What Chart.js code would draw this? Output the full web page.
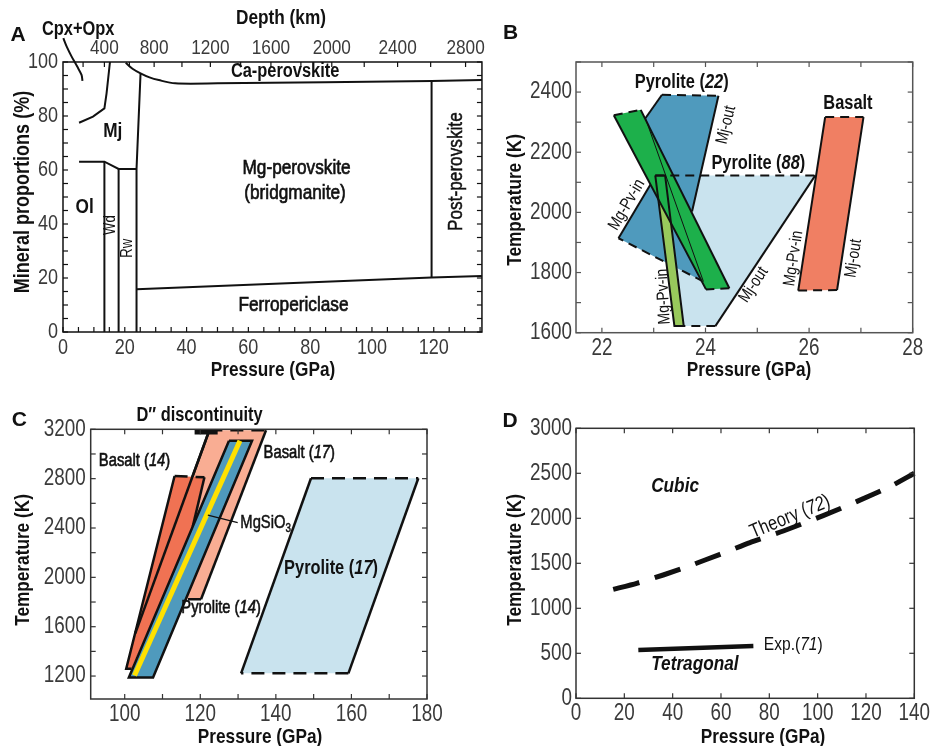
<!DOCTYPE html>
<html><head><meta charset="utf-8">
<script src="https://cdn.jsdelivr.net/npm/chart.js@4.4.1/dist/chart.umd.min.js"></script>
<style>
html,body{margin:0;padding:0;background:#fff;}
#wrap{position:relative;width:941px;height:746px;overflow:hidden;background:#fff;}
canvas{position:absolute;}
</style></head><body>
<div id="wrap">
<canvas id="cA" width="490" height="380" style="left:0;top:0"></canvas>
<canvas id="cB" width="451" height="380" style="left:490px;top:0"></canvas>
<canvas id="cC" width="490" height="366" style="left:0;top:380px"></canvas>
<canvas id="cD" width="451" height="366" style="left:490px;top:380px"></canvas>
</div>
<script>
// ---------------- DATA ----------------
// Panel A: mineral proportions (x = pressure GPa, y = %)
const cpxP = [0.1, 1.2, 2.8, 4.6, 6.0, 6.3];
const cpxF = [108.8, 105.7, 102, 98.3, 95.2, 93.0];
const mjP = [5.2, 9.7, 13.4, 14.1, 15.2];
const mjF = [77.5, 79.8, 82.8, 88.4, 100];
const olP = [5.2, 13.4, 18.0, 23.8];
const olF = [63.1, 63.1, 60.4, 60.4];
const wdP = [13.4, 13.4];
const wdF = [0, 63.1];
const rwP = [18.0, 18.0];
const rwF = [0, 60.4];
const pvP = [23.8, 23.8, 25.1];
const pvF = [0, 60.4, 95.8];
const fpP = [23.8, 119.3, 135.6];
const fpF = [15.8, 20.2, 20.7];
const caP = [20.3, 22.5, 25.1, 28.0, 31.0, 36.3, 50.0, 119.3, 135.6];
const caF = [99.7, 97.5, 95.8, 94.3, 93.3, 92.1, 92.1, 93.0, 93.3];
const ppvP = [119.3, 119.3];
const ppvF = [20.2, 93.0];
const xTicksA = [0, 20, 40, 60, 80, 100, 120];
const yTicksA = [0, 20, 40, 60, 80, 100];
const depthKm = [400, 800, 1200, 1600, 2000, 2400, 2800];
const depthAtP = [13.4, 29.5, 47.7, 67.3, 87.0, 108.3, 130.3];
const depthMinorP = [6.5, 13.4, 21.5, 29.5, 38.5, 47.7, 57.5, 67.3, 77.0, 87.0, 97.5, 108.3, 119.0, 130.3];

// Panel B: (x = pressure GPa, y = temperature K)
const pyr22P = [23.16, 24.25, 23.74, 23.96, 22.32, 23.03, 22.84];
const pyr22T = [2391, 2388, 2003, 1770, 1914, 2119, 2313];
const pyr88P = [23.03, 26.12, 24.19, 23.38];
const pyr88T = [2123, 2123, 1622, 1622];
const mgpvP = [23.03, 23.22, 23.58, 23.40];
const mgpvT = [2123, 2123, 1622, 1622];
const greenP = [22.23, 22.75, 24.46, 24.01];
const greenT = [2323, 2341, 1748, 1744];
const basBP = [26.31, 27.05, 26.54, 25.79];
const basBT = [2317, 2317, 1742, 1740];
const xTicksB = [22, 24, 26, 28];
const yTicksB = [1600, 1800, 2000, 2200, 2400];

// Panel C
const pyr17P = [149.3, 177.7, 159.2, 130.8];
const pyr17T = [2803, 2803, 1222, 1222];
const bas17P = [122.4, 137.4, 120.2, 116.3, 102.8];
const bas17T = [3192, 3192, 1822, 1822, 1546];
const bas14P = [113.2, 121.1, 118.0, 101.8, 100.4];
const bas14T = [2822, 2811, 2411, 1259, 1259];
const pyr14P = [127.6, 133.7, 107.5, 101.1];
const pyr14T = [3108, 3108, 1189, 1189];
const mgsP = [130.5, 102.6];
const mgsT = [3108, 1205];
const dppP = [118.5, 124.6];
const dppT = [3178, 3178];
const leadP = [122.0, 129.9];
const leadT = [2505, 2443];
const xTicksC = [100, 120, 140, 160, 180];
const yTicksC = [1200, 1600, 2000, 2400, 2800, 3200];

// Panel D
const theoryP = [15.4, 25.1, 36.1, 47.2, 59.6, 72.0, 85.8, 102.3, 116.1, 129.9, 140];
const theoryT = [1211, 1278, 1370, 1474, 1600, 1730, 1859, 2030, 2185, 2352, 2500];
const expP = [25.8, 73.4];
const expT = [537, 581];
const xTicksD = [0, 20, 40, 60, 80, 100, 120, 140];
const yTicksD = [0, 500, 1000, 1500, 2000, 2500, 3000];

// ---------------- HELPERS ----------------
const FAM = "'Liberation Sans',Arial,sans-serif";
const HS = 0.82; // horizontal condensing of all text (narrow face look)
function range(a, b, s) { const r = []; for (let v = a; v <= b + 1e-9; v += s) r.push(+v.toFixed(6)); return r; }
function pts(xs, ys) { return xs.map((x, i) => ({x: x, y: ys[i]})); }

function condense(canvas) {
  const ctx = canvas.getContext('2d');
  const orig = ctx.fillText;
  ctx._origFill = orig;
  ctx.fillText = function (t, x, y) {
    this.save(); this.translate(x, y); this.scale(HS, 1); orig.call(this, t, 0, 0); this.restore();
  };
}

function lineDS(xs, ys, o) {
  o = o || {};
  return {
    data: pts(xs, ys), borderColor: o.color || '#111', borderWidth: o.w || 2,
    borderDash: o.dash || [], borderCapStyle: o.cap || 'butt', pointRadius: 0,
    fill: false, tension: o.tension || 0, clip: o.clip === undefined ? 2 : o.clip
  };
}
function fillDS(xs, ys, color) {
  const d = pts(xs, ys); d.push(d[0]);
  return { data: d, borderWidth: 0, borderColor: 'rgba(0,0,0,0)', backgroundColor: color,
           fill: 'shape', pointRadius: 0, tension: 0 };
}
function outlineDS(xs, ys, edges, w, dash) {
  const d = pts(xs, ys); d.push(d[0]);
  return { data: d, borderWidth: w, borderColor: '#111', fill: false, pointRadius: 0, tension: 0,
    segment: {
      borderColor: c => edges[c.p0DataIndex] === 'n' ? 'rgba(0,0,0,0)' : '#111',
      borderDash: c => edges[c.p0DataIndex] === 'd' ? dash : []
    } };
}
function ordered(list) { list.forEach((d, i) => { d.order = -i; }); return list; }

function scale(o) {
  return {
    type: 'linear', position: o.pos, min: o.min, max: o.max,
    afterBuildTicks: s => { s.ticks = o.ticks.map(v => ({value: v})); },
    afterFit: s => { if (o.pos === 'left' || o.pos === 'right') s.width = o.size; else s.height = o.size; },
    grid: {display: false, drawTicks: false}, border: {display: false},
    ticks: {font: {family: FAM, size: o.fs || 23}, color: '#3a3a3a', padding: o.pad, autoSkip: false,
            maxRotation: 0, callback: o.cb || (v => String(v))},
    title: {display: false}
  };
}

function drawRich(ctx, parts, x, y, o) {
  ctx.save();
  ctx.translate(x, y);
  ctx.rotate((o.rot || 0) * Math.PI / 180);
  const hs = o.hs === undefined ? HS : o.hs;
  const fill = hs === 1 ? ctx._origFill : ctx.fillText;
  const fontFor = f => (((o.italic || f.indexOf('i') >= 0) ? 'italic ' : '') +
      (o.bold ? 'bold ' : '') + (f.indexOf('s') >= 0 ? Math.round(o.size * 0.68) : o.size) + 'px ' + FAM);
  let total = 0; const ws = [];
  parts.forEach(p => { ctx.font = fontFor(p[1] || ''); const w = ctx.measureText(p[0]).width * hs; ws.push(w); total += w; });
  let cx = o.align === 'left' ? 0 : (o.align === 'right' ? -total : -total / 2);
  ctx.textBaseline = 'middle'; ctx.textAlign = 'left'; ctx.fillStyle = o.color || '#111';
  ctx.strokeStyle = o.color || '#111'; ctx.lineWidth = o.med || 0;
  parts.forEach((p, i) => {
    const f = p[1] || '';
    ctx.font = fontFor(f);
    const yy = f.indexOf('s') >= 0 ? o.size * 0.32 : 0;
    fill.call(ctx, p[0], cx, yy);
    if (o.med) {
      ctx.save(); ctx.translate(cx, yy); ctx.scale(hs, 1); ctx.strokeText(p[0], 0, 0); ctx.restore();
    }
    cx += ws[i];
  });
  ctx.restore();
}

const DECOR = {};
const decorPlugin = {
  id: 'decor',
  afterDraw(chart) {
    const d = DECOR[chart.canvas.id]; if (!d) return;
    const ctx = chart.ctx, a = chart.chartArea;
    ctx.save();
    ctx.strokeStyle = d.frame; ctx.lineWidth = d.fw;
    ctx.strokeRect(a.left, a.top, a.right - a.left, a.bottom - a.top);
    ctx.lineWidth = d.tw || 1.2;
    d.ticks.forEach(t => {
      const s = chart.scales[t.s];
      t.v.forEach(v => {
        const p = s.getPixelForValue(v);
        t.sides.forEach(side => {
          ctx.beginPath();
          if (side === 'b') { ctx.moveTo(p, a.bottom); ctx.lineTo(p, a.bottom - d.tlen); }
          if (side === 't') { ctx.moveTo(p, a.top); ctx.lineTo(p, a.top + d.tlen); }
          if (side === 'l') { ctx.moveTo(a.left, p); ctx.lineTo(a.left + d.tlen, p); }
          if (side === 'r') { ctx.moveTo(a.right, p); ctx.lineTo(a.right - d.tlen, p); }
          ctx.stroke();
        });
      });
    });
    ctx.restore();
    const xs = chart.scales.x, ys = chart.scales.y;
    d.texts.forEach(t => {
      const px = t.px ? t.x : xs.getPixelForValue(t.x);
      const py = t.px ? t.y : ys.getPixelForValue(t.y);
      drawRich(chart.ctx, t.t, px, py, t);
    });
  }
};

function makeChart(id, datasets, scales, padding) {
  const cv = document.getElementById(id);
  condense(cv);
  return new Chart(cv, {
    type: 'line',
    data: {datasets: datasets},
    options: {
      responsive: false, animation: false, devicePixelRatio: 1, events: [],
      layout: {padding: padding},
      plugins: {legend: {display: false}, tooltip: {enabled: false}},
      scales: scales
    },
    plugins: [decorPlugin]
  });
}

// ---------------- PANEL A ----------------
DECOR.cA = {
  frame: '#111', fw: 1.5, tlen: 5,
  ticks: [{s: 'x', v: range(0, 135, 5), sides: ['b']},
          {s: 'x2', v: depthMinorP, sides: ['t']},
          {s: 'y', v: range(0, 100, 5), sides: ['l', 'r']}],
  texts: [
    {t: [['A']], x: 18, y: 35, px: true, size: 21, bold: true, hs: 1},
    {t: [['Depth (km)']], x: 281, y: 18, px: true, size: 21, bold: true},
    {t: [['Pressure (GPa)']], x: 273, y: 370, px: true, size: 21, bold: true},
    {t: [['Mineral proportions (%)']], x: 23, y: 192, px: true, size: 22, bold: true, rot: -90},
    {t: [['Cpx+Opx']], x: 4.9, y: 111.9, size: 20, bold: true},
    {t: [['Ca-perovskite']], x: 71.9, y: 96.4, size: 20, bold: true},
    {t: [['Mj']], x: 16.1, y: 74.2, size: 21, bold: true},
    {t: [['Mg-perovskite']], x: 75.6, y: 60.6, size: 21, med: 0.7},
    {t: [['(bridgmanite)']], x: 75.1, y: 51.4, size: 21, med: 0.7},
    {t: [['Ol']], x: 7.0, y: 46.4, size: 21, bold: true},
    {t: [['Wd']], x: 15.5, y: 39.6, size: 16, rot: -90},
    {t: [['Rw']], x: 20.8, y: 31.0, size: 16, rot: -90},
    {t: [['Post-perovskite']], x: 127.3, y: 59.4, size: 21, rot: -90, med: 0.5},
    {t: [['Ferropericlase']], x: 74.6, y: 10.0, size: 21, med: 0.7}
  ]
};
makeChart('cA', ordered([
  lineDS(cpxP, cpxF, {tension: 0.3, clip: false}),
  lineDS(mjP, mjF),
  lineDS(olP, olF),
  lineDS(wdP, wdF),
  lineDS(rwP, rwF),
  lineDS(pvP, pvF),
  lineDS(fpP, fpF),
  lineDS(caP, caF, {tension: 0.3}),
  lineDS(ppvP, ppvF)
]), {
  x: scale({pos: 'bottom', min: 0, max: 135.6, ticks: xTicksA, size: 48, pad: 3, fs: 22}),
  x2: scale({pos: 'top', min: 0, max: 135.6, ticks: depthAtP, size: 62, pad: 1, fs: 21,
             cb: (v, i) => String(depthKm[i])}),
  y: scale({pos: 'left', min: 0, max: 100, ticks: yTicksA, size: 63, pad: 5, fs: 22})
}, {left: 0, right: 2, top: 0, bottom: 0});

// ---------------- PANEL B ----------------
const DB = [9, 6];
DECOR.cB = {
  frame: '#555', fw: 1.5, tlen: 5,
  ticks: [{s: 'x', v: range(22, 28, 1), sides: ['b', 't']},
          {s: 'y', v: range(1600, 2500, 100), sides: ['l', 'r']}],
  texts: [
    {t: [['B']], x: 20.7, y: 33.3, px: true, size: 21, bold: true, hs: 1},
    {t: [['Pressure (GPa)']], x: 259, y: 370, px: true, size: 21, bold: true},
    {t: [['Temperature (K)']], x: 25, y: 200, px: true, size: 21, bold: true, rot: -90},
    {t: [['Pyrolite ('], ['22', 'i'], [')']], x: 23.54, y: 2432, size: 20, bold: true},
    {t: [['Basalt']], x: 26.75, y: 2361, size: 20, bold: true},
    {t: [['Pyrolite ('], ['88', 'i'], [')']], x: 25.02, y: 2164, size: 20, bold: true},
    {t: [['Mj-out']], x: 24.40, y: 2291, size: 17, rot: -76.5},
    {t: [['Mg-Pv-in']], x: 22.48, y: 2025, size: 17, rot: -59.7},
    {t: [['Mg-Pv-in']], x: 23.19, y: 1720, size: 17, rot: -93},
    {t: [['Mj-out']], x: 24.93, y: 1759, size: 17, rot: -56.4},
    {t: [['Mg-Pv-in']], x: 25.70, y: 1847, size: 17, rot: -81.3},
    {t: [['Mj-out']], x: 26.86, y: 1847, size: 17, rot: -81.3}
  ]
};
makeChart('cB', ordered([
  fillDS(pyr88P, pyr88T, '#c9e3ee'),
  fillDS(pyr22P, pyr22T, '#4f9abd'),
  outlineDS(pyr22P, pyr22T, ['d', 's', 'n', 'd', 's', 'n', 's'], 2, DB),
  fillDS(mgpvP, mgpvT, '#98c95c'),
  fillDS(greenP, greenT, '#1db04b'),
  outlineDS(greenP, greenT, ['d', 's', 'd', 's'], 2, DB),
  outlineDS(mgpvP, mgpvT, ['s', 's', 's', 's'], 2, DB),
  outlineDS(pyr88P, pyr88T, ['d', 's', 'd', 'n'], 2, DB),
  lineDS([pyr22P[6], pyr22P[3]], [pyr22T[6], pyr22T[3]], {w: 1}),
  fillDS(basBP, basBT, '#f07f63'),
  outlineDS(basBP, basBT, ['d', 's', 'd', 's'], 2, DB)
]), {
  x: scale({pos: 'bottom', min: 21.5, max: 28, ticks: xTicksB, size: 47.3, pad: 2}),
  y: scale({pos: 'left', min: 1600, max: 2500, ticks: yTicksB, size: 86, pad: 4})
}, {left: 0, right: 28.3, top: 62, bottom: 0});

// ---------------- PANEL C ----------------
const DC = [13, 8];
DECOR.cC = {
  frame: '#333', fw: 1.5, tlen: 5,
  ticks: [{s: 'x', v: range(100, 180, 10), sides: ['b', 't']},
          {s: 'y', v: range(1200, 3200, 200), sides: ['l', 'r']}],
  texts: [
    {t: [['C']], x: 19.3, y: 40, px: true, size: 21, bold: true, hs: 1},
    {t: [['Pressure (GPa)']], x: 260, y: 357, px: true, size: 21, bold: true},
    {t: [['Temperature (K)']], x: 23, y: 180, px: true, size: 21, bold: true, rot: -90},
    {t: [['D\u2033 discontinuity']], x: 119.8, y: 3308, size: 20, bold: true},
    {t: [['Basalt ('], ['14', 'i'], [')']], x: 102.6, y: 2946, size: 18, med: 0.6},
    {t: [['Basalt ('], ['17', 'i'], [')']], x: 146.2, y: 3005, size: 18, med: 0.6},
    {t: [['MgSiO'], ['3', 's']], x: 130.6, y: 2438, size: 18, align: 'left', med: 0.5},
    {t: [['Pyrolite ('], ['14', 'i'], [')']], x: 125.5, y: 1749, size: 18, med: 0.6},
    {t: [['Pyrolite ('], ['17', 'i'], [')']], x: 154.6, y: 2073, size: 20, bold: true}
  ]
};
makeChart('cC', ordered([
  fillDS(pyr17P, pyr17T, '#c9e3ee'),
  outlineDS(pyr17P, pyr17T, ['d', 's', 'd', 's'], 2.5, DC),
  fillDS(bas17P, bas17T, '#f9ad93'),
  outlineDS(bas17P, bas17T, ['d', 's', 'd', 'n', 's'], 2.5, DC),
  fillDS(bas14P, bas14T, '#f07253'),
  outlineDS(bas14P, bas14T, ['d', 's', 'n', 's', 's'], 2.5, DC),
  lineDS([bas17P[4], bas17P[0]], [bas17T[4], bas17T[0]], {w: 2.5}),
  fillDS(pyr14P, pyr14T, '#4f9abd'),
  outlineDS(pyr14P, pyr14T, ['s', 's', 's', 's'], 2.5, DC),
  lineDS(mgsP, mgsT, {w: 5, color: '#ffe100'}),
  lineDS(dppP, dppT, {w: 5}),
  lineDS(leadP, leadT, {w: 1.2})
]), {
  x: scale({pos: 'bottom', min: 91, max: 180, ticks: xTicksC, size: 47, pad: 2}),
  y: scale({pos: 'left', min: 1014, max: 3200, ticks: yTicksC, size: 90.7, pad: 5})
}, {left: 0, right: 63, top: 49.3, bottom: 0});

// ---------------- PANEL D ----------------
DECOR.cD = {
  frame: '#333', fw: 1.5, tlen: 5,
  ticks: [{s: 'x', v: xTicksD, sides: ['b', 't']},
          {s: 'y', v: yTicksD, sides: ['l', 'r']}],
  texts: [
    {t: [['D']], x: 20, y: 41.7, px: true, size: 21, bold: true, hs: 1},
    {t: [['Pressure (GPa)']], x: 273, y: 357, px: true, size: 21, bold: true},
    {t: [['Temperature (K)']], x: 25, y: 180, px: true, size: 21, bold: true, rot: -90},
    {t: [['Cubic']], x: 41.0, y: 2352, size: 21, bold: true, italic: true},
    {t: [['Tetragonal']], x: 49.2, y: 381, size: 21, bold: true, italic: true},
    {t: [['Exp.('], ['71', 'i'], [')']], x: 89.9, y: 593, size: 19},
    {t: [['Theory ('], ['72', 'i'], [')']], x: 88.6, y: 2015, size: 20, rot: -22.6}
  ]
};
makeChart('cD', ordered([
  lineDS(theoryP, theoryT, {w: 5, dash: [27, 16], tension: 0.2}),
  lineDS(expP, expT, {w: 4.5})
]), {
  x: scale({pos: 'bottom', min: 0, max: 140, ticks: xTicksD, size: 47.7, pad: 2}),
  y: scale({pos: 'left', min: 0, max: 3000, ticks: yTicksD, size: 86, pad: 4})
}, {left: 0, right: 26.7, top: 48.3, bottom: 0});
</script>
</body></html>
